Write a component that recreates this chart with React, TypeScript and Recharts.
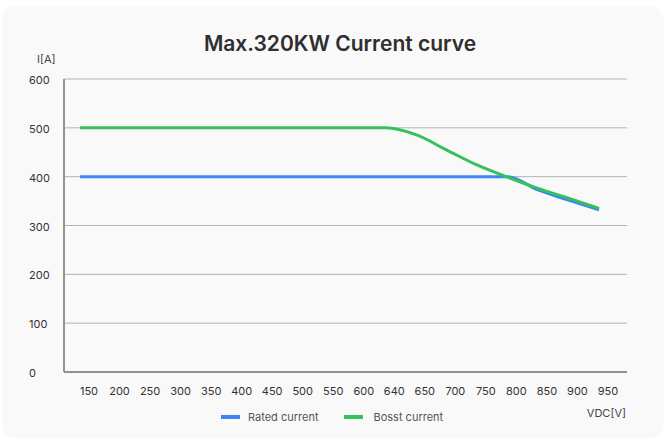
import React from "react";
import { LineChart, Line, XAxis, YAxis, CartesianGrid } from "recharts";

// x labels (the 640 point is where boost current starts to fall)
const voltageLabels = [
  "150", "200", "250", "300", "350", "400", "450", "500", "550", "600",
  "640", "650", "700", "750", "800", "850", "900", "950",
];
const ratedCurrent = [
  400, 400, 400, 400, 400, 400, 400, 400, 400, 400,
  400, 400, 400, 400, 400, 373, 352, 332,
];
const boostCurrent = [
  500, 500, 500, 500, 500, 500, 500, 500, 500, 500,
  500, 486, 455, 424, 399, 376, 356, 335,
];
const yTicks = [0, 100, 200, 300, 400, 500, 600];

const series = [
  { key: "rated", name: "Rated current", color: "#3b86f6" },
  { key: "boost", name: "Bosst current", color: "#35c15b" },
];

const data = voltageLabels.map((v, i) => ({
  v,
  rated: ratedCurrent[i],
  boost: boostCurrent[i],
}));

const FONT = "Inter, 'Noto Sans', sans-serif";

const YTick = (p: any) => (
  <text x={29} y={p.y} dy={5} textAnchor="start" fontSize={11} fill="#333" fontFamily={FONT}>
    {p.payload.value}
  </text>
);

const XTick = (p: any) => (
  <text x={p.x + 9} y={p.y} dy={15} textAnchor="middle" fontSize={11} fill="#333" fontFamily={FONT}>
    {p.payload.value}
  </text>
);

export default function App() {
  return (
    <div style={{ position: "relative", width: 666, height: 440, background: "#fff", fontFamily: FONT }}>
      <style>{`body{margin:0}`}</style>
      <div
        style={{
          position: "absolute",
          left: 2,
          top: 6,
          width: 662,
          height: 432,
          background: "#f9f9f9",
          borderRadius: 14,
        }}
      />
      <div
        style={{
          position: "absolute",
          left: 14,
          top: 31,
          width: 652,
          textAlign: "center",
          fontSize: 21,
          fontWeight: 600,
          color: "#2e2e2e",
          lineHeight: "26px",
        }}
      >
        Max.320KW Current curve
      </div>
      <div style={{ position: "absolute", left: 37, top: 52, fontSize: 11, color: "#444" }}>I[A]</div>
      <div style={{ position: "absolute", right: 40, top: 406, fontSize: 11, color: "#444" }}>VDC[V]</div>

      <div style={{ position: "absolute", left: 0, top: 0 }}>
        <LineChart width={666} height={440} data={data} margin={{ top: 79, right: 39, bottom: 38, left: 29 }}>
          <CartesianGrid vertical={false} stroke="#b3b3b3" />
          <XAxis
            dataKey="v"
            type="category"
            interval={0}
            height={30}
            padding={{ left: 16, right: 28 }}
            tickLine={false}
            axisLine={{ stroke: "#7a7a7a", strokeWidth: 1.5 }}
            tick={<XTick />}
          />
          <YAxis
            domain={[0, 600]}
            ticks={yTicks}
            width={35}
            tickLine={false}
            axisLine={{ stroke: "#929292", strokeWidth: 2 }}
            tick={<YTick />}
          />
          {series.map((s) => (
            <Line
              key={s.key}
              type="monotone"
              dataKey={s.key}
              name={s.name}
              stroke={s.color}
              strokeWidth={3}
              dot={false}
              isAnimationActive={false}
            />
          ))}
        </LineChart>
      </div>

      <div
        style={{
          position: "absolute",
          left: 221,
          top: 410,
          display: "flex",
          alignItems: "center",
          fontSize: 11,
          color: "#555",
        }}
      >
        {series.map((s, i) => (
          <div key={s.key} style={{ display: "flex", alignItems: "center", marginLeft: i ? 25 : 0 }}>
            <div style={{ width: 19, height: 4, background: s.color, marginRight: i ? 11 : 8 }} />
            <span>{s.name}</span>
          </div>
        ))}
      </div>
    </div>
  );
}
